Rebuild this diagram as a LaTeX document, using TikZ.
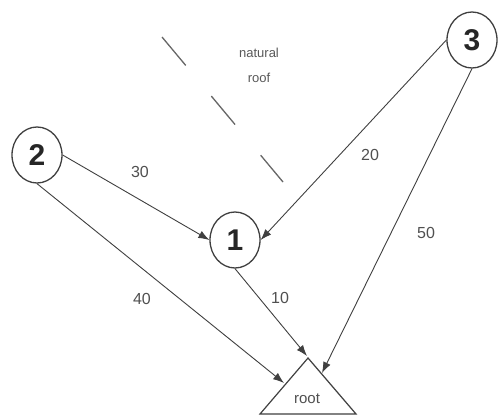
\documentclass[tikz,border=0pt]{standalone}
\usepackage{fontspec}
\setmainfont{Liberation Sans}
\usetikzlibrary{shapes.geometric,arrows.meta}
\definecolor{ln}{HTML}{404040}
\definecolor{lbl}{HTML}{505050}
\tikzset{
  vert/.style={draw=ln, line width=1.3pt, ellipse, minimum width=50pt, minimum height=56pt, inner sep=0pt, font=\fontsize{30}{32}\selectfont\bfseries, text=black!85},
  edge/.style={draw=ln, line width=0.9pt, -{Latex[length=11pt,width=8pt]}},
  wlabel/.style={font=\fontsize{16}{18}\selectfont, text=lbl, inner sep=0pt},
}
\begin{document}
\begin{tikzpicture}[x=1pt,y=-1pt]
\useasboundingbox[fill=white] (0,0) rectangle (498,420);
% nodes
\node[vert] (n2) at (37,155) {2};
\node[vert] (n1) at (235,240) {1};
\node[vert] (n3) at (472,40) {3};
% root triangle
\coordinate (ra) at (308,358);
\coordinate (rl) at (260,414);
\coordinate (rr) at (356,414);
\draw[ln, line width=1.2pt, line join=miter] (ra) -- (rl) -- (rr) -- cycle;
\node[wlabel, font=\fontsize{15}{17}\selectfont] (root) at (307,399) {root};
% arrow tips on the triangle
\coordinate (t2) at (284,383);
\coordinate (t1) at (307,356);
\coordinate (t3) at (322,373);
% connectors
\draw[edge] (n2.east) -- (n1.west);
\draw[edge] (n3.west) -- (n1.east);
\draw[edge] (n2.south) -- (t2);
\draw[edge] (n1.south) -- (t1);
\draw[edge] (n3.south) -- (t3);
% weights
\node[wlabel] (w30) at (140,172) {30};
\node[wlabel] (w20) at (370,155) {20};
\node[wlabel] (w40) at (142,299) {40};
\node[wlabel] (w10) at (280,298) {10};
\node[wlabel] (w50) at (426,233) {50};
% natural roof
\coordinate (nr1) at (162,37);
\coordinate (nr2) at (283,182);
\draw[draw=black!60, line width=1.3pt, dash pattern=on 37pt off 40pt] (nr1) -- (nr2);
\node[wlabel, font=\fontsize{13}{25}\selectfont, align=center, text=black!65] (nat) at (259,65) {natural\\roof};
\end{tikzpicture}
\end{document}
